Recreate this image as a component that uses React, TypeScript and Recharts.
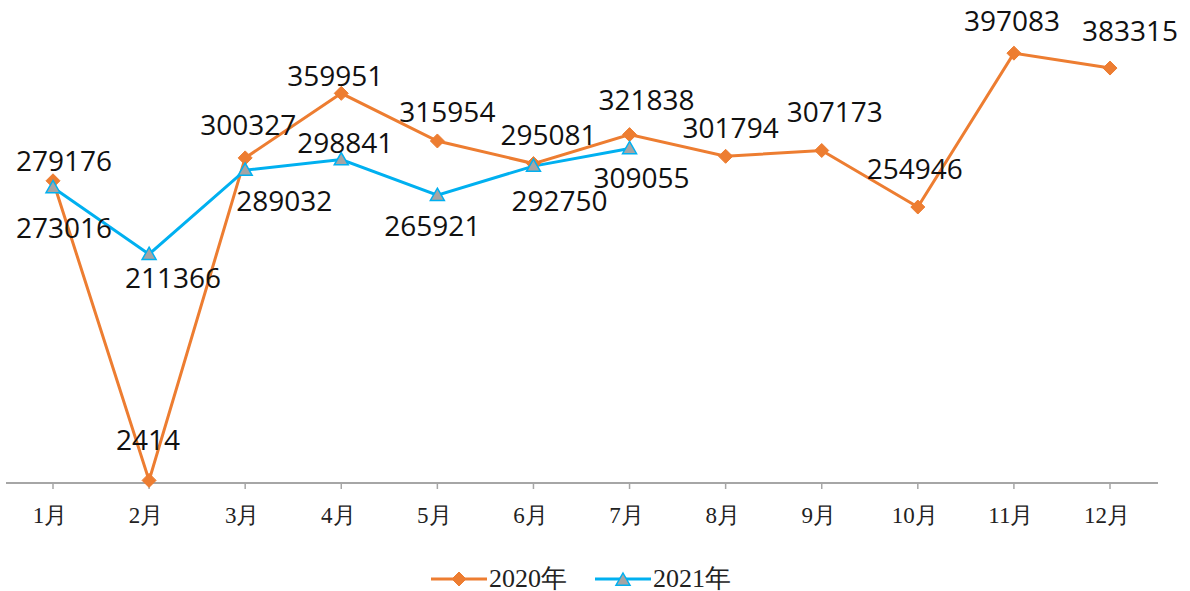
import React from 'react';
import { LineChart, Line, XAxis, YAxis, LabelList } from 'recharts';

const months = ['1月', '2月', '3月', '4月', '5月', '6月', '7月', '8月', '9月', '10月', '11月', '12月'];
const series2020 = [279176, 2414, 300327, 359951, 315954, 295081, 321838, 301794, 307173, 254946, 397083, 383315];
const series2021 = [273016, 211366, 289032, 298841, 265921, 292750, 309055, null, null, null, null, null];
const seriesNames = ['2020年', '2021年'];

// label offsets relative to each point (dx, dy)
const labelDx2020 = [11, -1, 3, -6, 10, 15, 17, 5, 13, -3, -2, 20];
const labelDy2020 = [-21, -41, -34, -18, -30, -30, -36, -29, -39, -39, -33, -38];
const labelDx2021 = [11, 24, 39, 4, -5, 26, 12];
const labelDy2021 = [40, 23, 30, -18, 30, 34, 29];

const data = months.map((m, i) => ({ month: m, y2020: series2020[i], y2021: series2021[i] }));

const ORANGE = '#ED7D31';
const BLUE = '#00B0F0';
const GRAY = '#A5A5A5';
const LABEL_FONT = '"Open Sans", "Noto Sans", sans-serif';
const SERIF = '"Liberation Serif", "Times New Roman", serif';

const Diamond = ({ cx, cy, r = 7 }: { cx: number; cy: number; r?: number }) => (
  <path d={`M${cx},${cy - r} L${cx + r},${cy} L${cx},${cy + r} L${cx - r},${cy} Z`} fill={ORANGE} stroke={ORANGE} strokeWidth={1} />
);

const Triangle = ({ cx, cy, s = 7 }: { cx: number; cy: number; s?: number }) => (
  <path
    d={`M${cx},${cy - s} L${cx + s},${cy + s * 0.75} L${cx - s},${cy + s * 0.75} Z`}
    fill={GRAY}
    stroke={BLUE}
    strokeWidth={1.5}
  />
);

const renderDot2020 = (p: any) => {
  if (p.cx == null || p.cy == null || p.value == null) return <g key={`d20-${p.index}`} />;
  return <Diamond key={`d20-${p.index}`} cx={p.cx} cy={p.cy} />;
};
const renderDot2021 = (p: any) => {
  if (p.cx == null || p.cy == null || p.value == null) return <g key={`d21-${p.index}`} />;
  return <Triangle key={`d21-${p.index}`} cx={p.cx} cy={p.cy} />;
};

const makeLabel = (dxs: number[], dys: number[]) => (p: any) => {
  const { x, y, value, index } = p;
  if (value == null || x == null || y == null) return null;
  return (
    <text
      x={x + (dxs[index] ?? 0)}
      y={y + (dys[index] ?? 0)}
      textAnchor="middle"
      dominantBaseline="central"
      fontFamily={LABEL_FONT}
      fontSize={28}
      fill="#111"
    >
      {value}
    </text>
  );
};

const XTick = (p: any) => {
  const { x, y, payload } = p;
  return (
    <text x={x - 3} y={y + 32} textAnchor="middle" fontFamily={SERIF} fontSize={23} fill="#222">
      {payload.value}
    </text>
  );
};

export default function App() {
  return (
    <div style={{ position: 'absolute', left: 0, top: 0, width: 1190, height: 591, background: '#fff' }}>
      <LineChart
        width={1190}
        height={591}
        data={data}
        margin={{ top: 50, right: 32, bottom: 68, left: 6 }}
        style={{ overflow: 'visible' }}
      >
        <XAxis
          dataKey="month"
          axisLine={{ stroke: '#A6A6A6', strokeWidth: 2 }}
          tickLine={{ stroke: '#A6A6A6', strokeWidth: 1.5 }}
          tickSize={6}
          tick={<XTick />}
          interval={0}
          height={40}
          padding={{ left: 47, right: 48 }}
        />
        <YAxis hide domain={[0, 400000]} width={0} />
        <Line
          dataKey="y2020"
          stroke={ORANGE}
          strokeWidth={3}
          dot={renderDot2020}
          activeDot={false}
          isAnimationActive={false}
        >
          <LabelList dataKey="y2020" content={makeLabel(labelDx2020, labelDy2020)} />
        </Line>
        <Line
          dataKey="y2021"
          stroke={BLUE}
          strokeWidth={3}
          dot={renderDot2021}
          activeDot={false}
          connectNulls={false}
          isAnimationActive={false}
        >
          <LabelList dataKey="y2021" content={makeLabel(labelDx2021, labelDy2021)} />
        </Line>
      </LineChart>
      <div
        style={{
          position: 'absolute',
          top: 561,
          left: 0,
          width: 1190,
          display: 'flex',
          justifyContent: 'center',
          alignItems: 'center',
          fontFamily: SERIF,
          fontSize: 26,
          color: '#222',
        }}
      >
        <div style={{ display: 'flex', alignItems: 'center', marginLeft: -28 }}>
          <svg width={56} height={20}>
            <line x1={0} y1={10} x2={56} y2={10} stroke={ORANGE} strokeWidth={3} />
            <Diamond cx={28} cy={10} r={7} />
          </svg>
          <span style={{ marginLeft: 2 }}>{seriesNames[0]}</span>
        </div>
        <div style={{ display: 'flex', alignItems: 'center', marginLeft: 28 }}>
          <svg width={56} height={20}>
            <line x1={0} y1={10} x2={56} y2={10} stroke={BLUE} strokeWidth={3} />
            <Triangle cx={28} cy={11} s={7} />
          </svg>
          <span style={{ marginLeft: 2 }}>{seriesNames[1]}</span>
        </div>
      </div>
    </div>
  );
}
